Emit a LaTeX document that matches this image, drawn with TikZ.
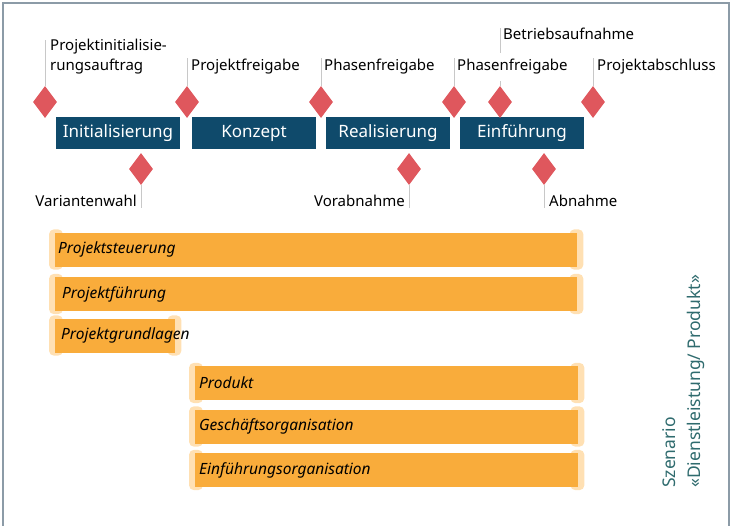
\documentclass[tikz,border=0pt]{standalone}
\usepackage{fontspec}
\setmainfont{Noto Sans}
\usetikzlibrary{shapes.geometric,backgrounds}

\definecolor{phaseblue}{HTML}{0F4A6B}
\definecolor{msred}{HTML}{DF575D}
\definecolor{barorange}{HTML}{F9AC3B}
\definecolor{barcap}{HTML}{FFE0B3}
\definecolor{framegray}{HTML}{8C9BA7}
\definecolor{pingray}{HTML}{C8C8C8}
\definecolor{scentext}{HTML}{2F6B6E}

\begin{document}
\begin{tikzpicture}[x=1pt,y=-1pt,
  phase/.style={fill=phaseblue,text=white,minimum width=124pt,minimum height=32pt,
    inner sep=0pt,font=\fontsize{17}{17}\selectfont},
  milestone/.style={diamond,fill=msred,minimum width=24pt,minimum height=32pt,inner sep=0pt},
  pin/.style={draw=pingray,line width=0.9pt},
  mlabel/.style={inner sep=0pt,align=left,font=\fontsize{15}{20}\selectfont},
  bar/.style={fill=barorange,minimum height=34pt,inner xsep=3pt,inner ysep=0pt,anchor=west,
    align=left,font=\itshape\fontsize{15.5}{16}\selectfont},
  barend/.style={fill=barcap,rounded corners=5pt}]
  \useasboundingbox (0,0) rectangle (731,525);
  \draw[framegray,line width=1.5pt] (3,526) -- (3,3) -- (729,3) -- (729,526);

  % phases
  \node[phase] (init) at (118,133) {Initialisierung};
  \node[phase] (konzept) at (254,133) {Konzept};
  \node[phase] (real) at (388,133) {Realisierung};
  \node[phase] (einf) at (522,133) {Einführung};

  % milestones above
  \node[milestone] (m1) at (45,102) {};
  \node[milestone] (m2) at (187,102) {};
  \node[milestone] (m3) at (321,102) {};
  \node[milestone] (m4) at (454,102) {};
  \node[milestone] (m5) at (500,102) {};
  \node[milestone] (m6) at (593,102) {};
  % milestones below
  \node[milestone] (m7) at (141,169) {};
  \node[milestone] (m8) at (409,169) {};
  \node[milestone] (m9) at (544,169) {};

  \coordinate (p1) at (45,40);
  \coordinate (p2) at (187,58);
  \coordinate (p3) at (321,58);
  \coordinate (p4) at (454,58);
  \coordinate (p5) at (500,28);
  \coordinate (p6) at (593,58);
  \coordinate (p7) at (141,208);
  \coordinate (p8) at (409,208);
  \coordinate (p9) at (544,208);
  \foreach \m/\p in {m1/p1,m2/p2,m3/p3,m4/p4,m5/p5,m6/p6}
    \draw[pin] (\m.north) -- (\p);
  \foreach \m/\p in {m7/p7,m8/p8,m9/p9}
    \draw[pin] (\m.south) -- (\p);

  \node[mlabel,anchor=west] (l1) at (50,57) {Projektinitialisie-\\rungsauftrag};
  \node[mlabel,anchor=west] (l2) at (191,67) {Projektfreigabe};
  \node[mlabel,anchor=west] (l3) at (324,67) {Phasenfreigabe};
  \node[mlabel,anchor=west,fill=white,minimum height=28pt] (l4) at (457,67) {Phasenfreigabe};
  \node[mlabel,anchor=west] (l5) at (503,34) {Betriebsaufnahme};
  \node[mlabel,anchor=west] (l6) at (597,67) {Projektabschluss};
  \node[mlabel,anchor=east] (l7) at (137,201) {Variantenwahl};
  \node[mlabel,anchor=east] (l8) at (405,201) {Vorabnahme};
  \node[mlabel,anchor=west] (l9) at (549,201) {Abnahme};

  % work packages
  \node[bar,minimum width=522pt,text width=516pt] (steuerung) at (55,249.5) {Projektsteuerung};
  \node[bar,minimum width=522pt,inner xsep=7pt,text width=508pt] (fuehrung) at (55,294) {Projektführung};
  \node[bar,minimum width=120pt,inner xsep=6pt,text width=108pt] (grundlagen) at (55,335.5) {Projektgrundlagen};
  \node[bar,minimum width=383pt,inner xsep=4pt,text width=375pt] (produkt) at (195,383) {Produkt};
  \node[bar,minimum width=383pt,inner xsep=4pt,text width=375pt] (geschaeft) at (195,426.5) {Geschäftsorganisation};
  \node[bar,minimum width=383pt,inner xsep=4pt,text width=375pt] (einfuehrung) at (195,470) {Einführungsorganisation};
  \begin{scope}[on background layer]
    \foreach \b in {steuerung,fuehrung,grundlagen,produkt,geschaeft,einfuehrung} {
      \fill[barend] ([shift={(-6,-3)}]\b.north west) rectangle ([shift={(8,3)}]\b.south west);
      \fill[barend] ([shift={(-8,-3)}]\b.north east) rectangle ([shift={(6,3)}]\b.south east);
    }
  \end{scope}

  \node[rotate=90,anchor=north west,align=left,inner sep=0pt,text=scentext,
    font=\fontsize{17.5}{25}\selectfont] (szenario) at (662,488)
    {Szenario\\«Dienstleistung/ Produkt»};
\end{tikzpicture}
\end{document}
